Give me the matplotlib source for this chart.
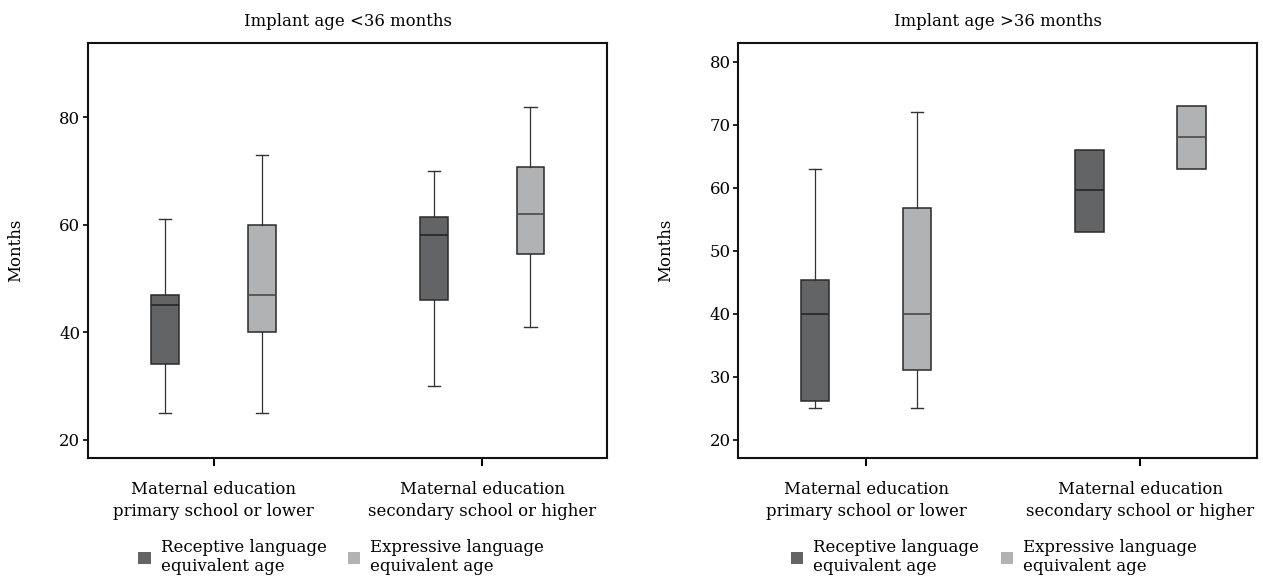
import matplotlib
matplotlib.use("Agg")
import matplotlib.pyplot as plt
from matplotlib.patches import Patch

# Five-number summaries per box: [lower whisker, Q1, median, Q3, upper whisker]
groups = ["Maternal education\nprimary school or lower",
          "Maternal education\nsecondary school or higher"]
series_names = ["Receptive language\nequivalent age",
                "Expressive language\nequivalent age"]

under36_receptive = [[25, 34, 45, 47, 61], [30, 46, 58, 61.5, 70]]
under36_expressive = [[25, 40, 47, 60, 73], [41, 54.5, 62, 70.7, 82]]
over36_receptive = [[25, 26.2, 40, 45.3, 63], [53, 53, 59.6, 66, 66]]
over36_expressive = [[25, 31.1, 40, 56.8, 72], [63, 63, 68, 73, 73]]

panel_titles = ["Implant age <36 months", "Implant age >36 months"]
under36_yticks = [20, 40, 60, 80]
over36_yticks = [20, 30, 40, 50, 60, 70, 80]

dark = "#636466"
light = "#b0b2b4"
edge = "#2a2a2a"

plt.rcParams["font.family"] = ["DejaVu Serif"]
plt.rcParams["font.size"] = 11.9

fig = plt.figure(figsize=(12.63, 5.81), dpi=100)
ax_l = fig.add_axes([0.0697, 0.212, 0.4109, 0.7145])
ax_r = fig.add_axes([0.5847, 0.212, 0.4106, 0.7145])


def stats_from(rows):
    out = []
    for lo, q1, med, q3, hi in rows:
        out.append(dict(whislo=lo, q1=q1, med=med, q3=q3, whishi=hi, fliers=[]))
    return out


def draw_panel(ax, receptive, expressive, offset, xlim, ylim, yticks, title,
               legend_x):
    for rows, sign, color, med_color in ((receptive, -1, dark, "#262626"),
                                         (expressive, 1, light, "#4a4a4a")):
        pos = [i + sign * offset for i in range(len(groups))]
        bp = ax.bxp(stats_from(rows), positions=pos, widths=0.104,
                    capwidths=0.045, patch_artist=True, showfliers=False,
                    boxprops=dict(facecolor=color, edgecolor=edge, linewidth=1.1),
                    medianprops=dict(color=med_color, linewidth=1.2),
                    whiskerprops=dict(color="#333333", linewidth=0.9),
                    capprops=dict(color="#333333", linewidth=1.0))
        # hide caps that coincide with the box edges
        for k, (lo, q1, med, q3, hi) in enumerate(rows):
            if lo == q1:
                bp["caps"][2 * k].set_visible(False)
            if hi == q3:
                bp["caps"][2 * k + 1].set_visible(False)

    ax.set_xlim(*xlim)
    ax.set_ylim(*ylim)
    ax.set_xticks(range(len(groups)))
    ax.set_xticklabels(groups, linespacing=1.32)
    ax.set_yticks(yticks)
    ax.tick_params(axis="x", length=6, width=1.5, pad=11, direction="out")
    ax.tick_params(axis="y", length=3.6, width=1.2, pad=2, direction="out")
    for sp in ax.spines.values():
        sp.set_linewidth(1.5)
        sp.set_color("#111111")
    ax.set_ylabel("Months")
    ax.yaxis.set_label_coords(-0.124, 0.5)
    ax.set_title(title, pad=12, fontsize=11.9)

    handles = [Patch(facecolor=dark, edgecolor="none"),
               Patch(facecolor=light, edgecolor="none")]
    ax.legend(handles, series_names, ncol=2, frameon=False,
              loc="upper left", bbox_to_anchor=(legend_x, -0.195),
              borderpad=0, borderaxespad=0, handlelength=0.75,
              handleheight=0.75, handletextpad=0.6, columnspacing=1.3,
              labelspacing=0.2)


draw_panel(ax_l, under36_receptive, under36_expressive, 0.18,
           (-0.468, 1.465), (16.6, 93.9), under36_yticks, panel_titles[0],
           0.097)
draw_panel(ax_r, over36_receptive, over36_expressive, 0.186,
           (-0.465, 1.425), (17.1, 83.0), over36_yticks, panel_titles[1],
           0.101)

fig.savefig("out.png", dpi=100)
